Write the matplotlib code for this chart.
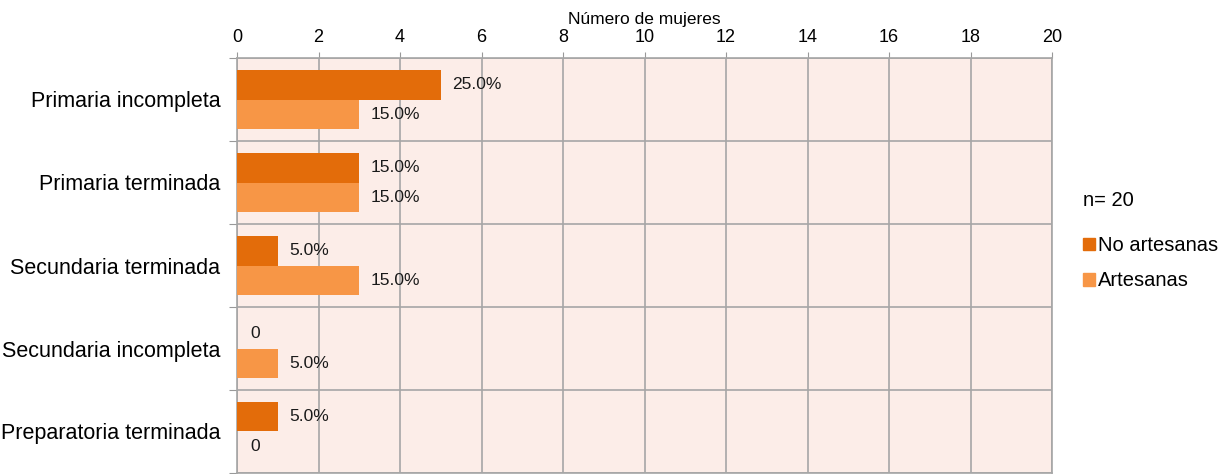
import numpy as np
import matplotlib.pyplot as plt
from matplotlib.patches import Patch

plt.rcParams['font.family'] = ['Liberation Sans', 'DejaVu Sans']

# Datos
categorias = ["Primaria incompleta", "Primaria terminada", "Secundaria terminada",
              "Secundaria incompleta", "Preparatoria terminada"]
no_artesanas = [5, 3, 1, 0, 1]
artesanas = [3, 3, 3, 1, 0]
n_total = 20
series = ["No artesanas", "Artesanas"]
colores = ["#E36C0A", "#F79646"]

fig = plt.figure(figsize=(12.25, 4.74), dpi=100)
ax = fig.add_axes([237 / 1225, 1 / 474, (1052 - 237) / 1225, (473 - 58) / 474])
ax.set_facecolor("#FCEDE8")

pos = np.arange(len(categorias))
alto = 0.36

def etiqueta(v):
    return "0" if v == 0 else f"{v / n_total * 100:.1f}%"

for i, (vals, col) in enumerate(zip([no_artesanas, artesanas], colores)):
    ys = pos - alto / 2 + i * alto
    ax.barh(ys, vals, height=alto, color=col, zorder=3)
    for y, v in zip(ys, vals):
        ax.annotate(etiqueta(v), (v, y), xytext=(8 if v else 9.5, 0),
                    textcoords="offset points", va="center", ha="left",
                    fontsize=12.5, color="#1a1a1a", zorder=4)

ax.set_xlim(0, 20)
ax.set_ylim(len(categorias) - 0.5, -0.5)
ax.set_xticks(np.arange(0, 21, 2))
ax.xaxis.tick_top()
ax.xaxis.set_label_position("top")
ax.set_xlabel("Número de mujeres", fontsize=12.5, labelpad=3)
ax.tick_params(axis="x", labelsize=13, length=4, color="#999999", pad=5)

# separadores entre categorías
ax.set_yticks(np.arange(-0.5, len(categorias) + 0.5, 1))
ax.set_yticklabels([])
ax.set_yticks(pos, minor=True)
ax.set_yticklabels(categorias, minor=True, fontsize=15.5)
ax.tick_params(axis="y", which="major", length=6, color="#999999")
ax.tick_params(axis="y", which="minor", length=0, pad=12)

ax.grid(True, which="major", color="#A6A6A6", linewidth=1.2, zorder=0)
for s in ax.spines.values():
    s.set_color("#A6A6A6")
    s.set_linewidth(1.2)

fig.text(1083 / 1225, 1 - 201 / 474, f"n= {n_total}", fontsize=14.5, va="center")
handles = [Patch(color=c) for c in colores]
fig.legend(handles, series, loc="upper left", bbox_to_anchor=(1065 / 1225, 1 - 218 / 474),
           frameon=False, fontsize=14.5, handlelength=0.6, handleheight=0.6,
           handletextpad=0.15, labelspacing=0.8)

fig.savefig("out.png", dpi=100)
